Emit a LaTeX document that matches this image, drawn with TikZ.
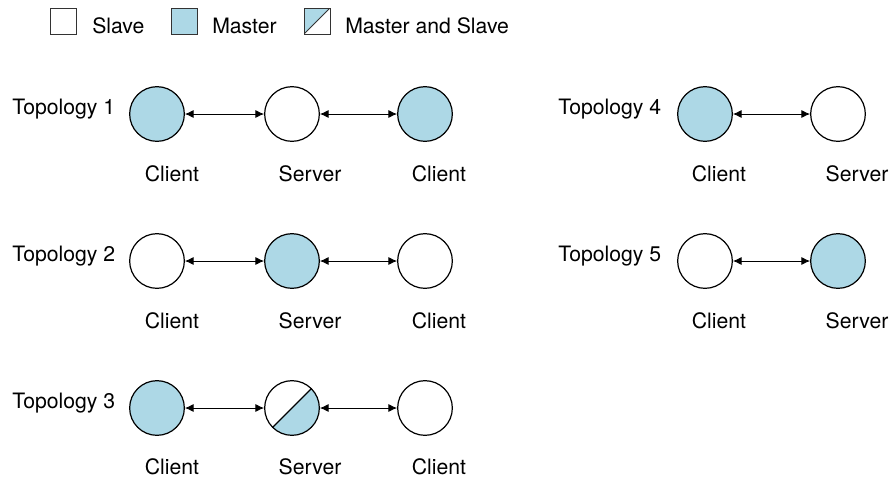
\documentclass[tikz,border=0pt]{standalone}
\usepackage{fontspec}
\setmainfont{TeX Gyre Heros}
\usetikzlibrary{arrows.meta}

\definecolor{masterblue}{RGB}{173,216,230}

\tikzset{
	every node/.style={font=\fontsize{15.9}{18}\selectfont},
	host/.style={circle,draw=black,line width=0.9pt,minimum size=41pt,inner sep=0pt},
	slave/.style={host,fill=white},
	master/.style={host,fill=masterblue},
	both/.style={host,fill=white,path picture={
		\fill[masterblue] (path picture bounding box.south west) -- (path picture bounding box.south east)
			-- (path picture bounding box.north east) -- cycle;
		\draw[line width=0.9pt] (path picture bounding box.south west) -- (path picture bounding box.north east);}},
	key/.style={draw=black!80,line width=0.7pt,minimum size=19.5pt,inner sep=0pt},
	lbl/.style={anchor=base},
	title/.style={anchor=base west,inner sep=0pt},
	link/.style={{Latex[length=6.5pt,width=6pt]}-{Latex[length=6.5pt,width=6pt]},line width=0.6pt}
}

\begin{document}
\begin{tikzpicture}[x=0.75pt,y=-0.75pt]

	\useasboundingbox (0,0) rectangle (889,479);

	% legend
	\node[key,fill=white] (k1) at (63,21) {};
	\node[title] (t1) at (92,33) {Slave};
	\node[key,fill=masterblue] (k2) at (184,21) {};
	\node[title] (t2) at (212,33) {Master};
	\node[key,fill=white,path picture={
		\fill[masterblue] (path picture bounding box.south west) -- (path picture bounding box.north west)
			-- (path picture bounding box.north east) -- cycle;
		\draw[line width=0.7pt] (path picture bounding box.south west) -- (path picture bounding box.north east);}] (k3) at (317,21) {};
	\node[title] (t3) at (345,33) {Master and Slave};

	% topology 1
	\node[title] (p1) at (12,114) {Topology 1};
	\node[master] (a1) at (157,114) {};
	\node[slave]  (b1) at (292,114) {};
	\node[master] (c1) at (425,114) {};
	\node[lbl] at (172,181) {Client};
	\node[lbl] at (310,181) {Server};
	\node[lbl] at (439,181) {Client};

	% topology 2
	\node[title] (p2) at (12,261) {Topology 2};
	\node[slave]  (a2) at (157,261) {};
	\node[master] (b2) at (292,261) {};
	\node[slave]  (c2) at (425,261) {};
	\node[lbl] at (172,328) {Client};
	\node[lbl] at (310,328) {Server};
	\node[lbl] at (439,328) {Client};

	% topology 3
	\node[title] (p3) at (12,408) {Topology 3};
	\node[master] (a3) at (157,408) {};
	\node[both]   (b3) at (292,408) {};
	\node[slave]  (c3) at (425,408) {};
	\node[lbl] at (172,474) {Client};
	\node[lbl] at (310,474) {Server};
	\node[lbl] at (439,474) {Client};

	% topology 4
	\node[title] (p4) at (558,114) {Topology 4};
	\node[master] (a4) at (705,114) {};
	\node[slave]  (b4) at (838,114) {};
	\node[lbl] at (719,181) {Client};
	\node[lbl] at (857,181) {Server};

	% topology 5
	\node[title] (p5) at (558,261) {Topology 5};
	\node[slave]  (a5) at (705,261) {};
	\node[master] (b5) at (838,261) {};
	\node[lbl] at (719,328) {Client};
	\node[lbl] at (857,328) {Server};

	\draw (a1) edge[link] (b1)
	(b1) edge[link] (c1)
	(a2) edge[link] (b2)
	(b2) edge[link] (c2)
	(a3) edge[link] (b3)
	(b3) edge[link] (c3)
	(a4) edge[link] (b4)
	(a5) edge[link] (b5);

\end{tikzpicture}
\end{document}
